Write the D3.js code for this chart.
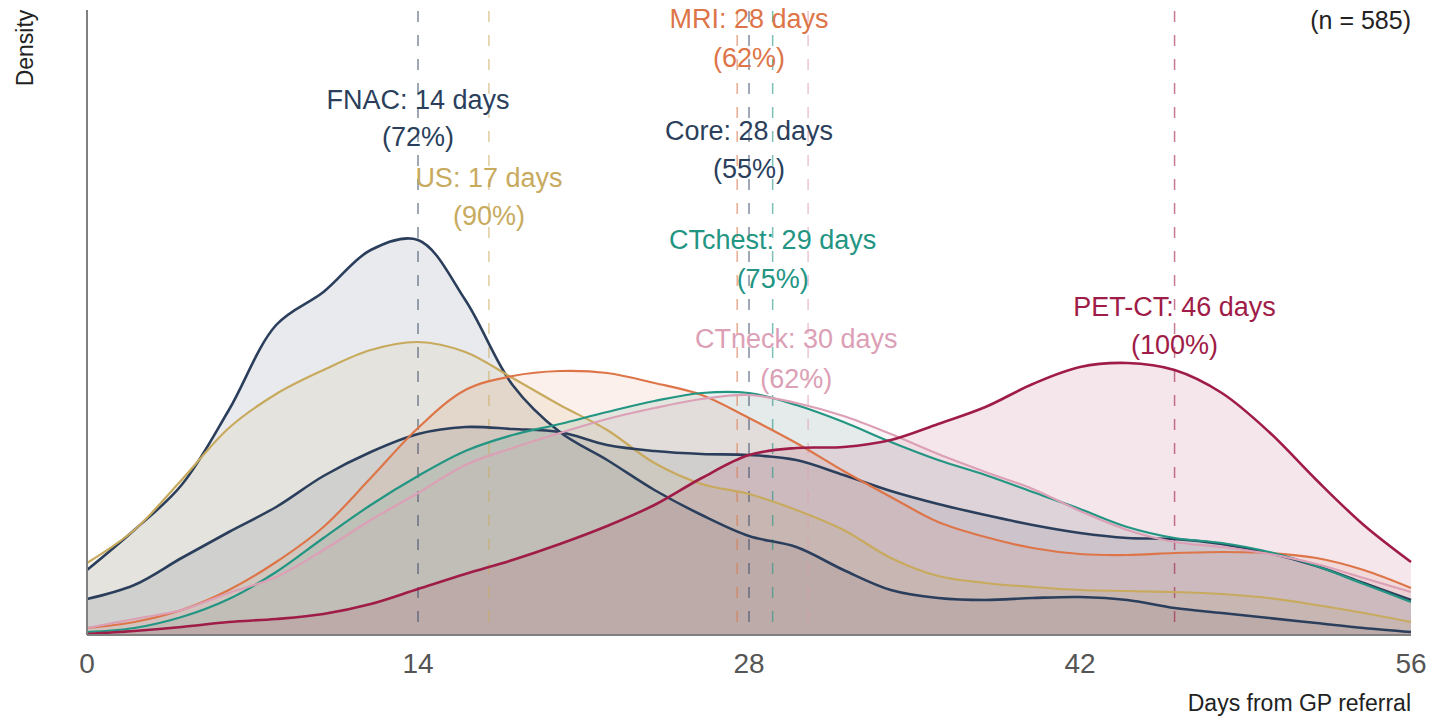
<!DOCTYPE html>
<html lang="en">
<head>
  <meta charset="UTF-8">
  <title>Days from GP referral - density</title>
  <script src="https://d3js.org/d3.v7.min.js"></script>
  <style>
    body {
      margin: 0;
      background: #fff;
      font-family: "Liberation Sans", Arial, sans-serif;
    }
    .tick-label {
      font-size: 28px;
      fill: #555;
    }
    .axis-title {
      font-size: 23px;
      fill: #222;
    }
    .ann {
      font-size: 27px;
    }
  </style>
</head>
<body>
  <svg width="1436" height="720"></svg>

  <script>
    // days sampled every 2 days, 0..56
    const days = d3.range(0, 57, 2);
    const tickDays = [0, 14, 28, 42, 56];

    const tests = ["FNAC", "US", "Core", "MRI", "CTchest", "CTneck", "PET-CT"];
    const medianDays = [14, 17, 28, 27.5, 29, 30.5, 46];
    const labelDays = [14, 17, 28, 28, 29, 30, 46];
    const pctLabels = ["72%", "90%", "55%", "62%", "75%", "62%", "100%"];
    const colors = ["#2b3f5c", "#c8aa5e", "#2b3f5c", "#dd7548", "#239583", "#dca0b6", "#a01c48"];

    const fnac = [0.0065, 0.0105, 0.0150, 0.0225, 0.0310, 0.0343, 0.0385, 0.0395, 0.0335, 0.0250, 0.0203, 0.0175, 0.0145, 0.0120, 0.0099, 0.0088, 0.0065, 0.0045, 0.0037, 0.0035, 0.0037, 0.0038, 0.0035, 0.0027, 0.0022, 0.0017, 0.0012, 0.0007, 0.0003];
    const us = [0.0072, 0.0105, 0.0155, 0.0207, 0.0241, 0.0265, 0.0285, 0.0293, 0.0283, 0.0257, 0.0230, 0.0205, 0.0172, 0.0151, 0.0141, 0.0125, 0.0105, 0.0077, 0.0059, 0.0052, 0.0048, 0.0045, 0.0044, 0.0043, 0.0041, 0.0037, 0.0030, 0.0022, 0.0013];
    const core = [0.0036, 0.0050, 0.0077, 0.0103, 0.0128, 0.0159, 0.0183, 0.0201, 0.0208, 0.0206, 0.0203, 0.0190, 0.0184, 0.0181, 0.0180, 0.0175, 0.0160, 0.0144, 0.0131, 0.0120, 0.0110, 0.0102, 0.0097, 0.0096, 0.0091, 0.0082, 0.0069, 0.0052, 0.0035];
    const mri = [0.0007, 0.0013, 0.0025, 0.0045, 0.0073, 0.0108, 0.0157, 0.0207, 0.0245, 0.0259, 0.0264, 0.0262, 0.0252, 0.0240, 0.0217, 0.0192, 0.0164, 0.0138, 0.0113, 0.0098, 0.0087, 0.0081, 0.0080, 0.0082, 0.0083, 0.0082, 0.0077, 0.0065, 0.0047];
    const ctChest = [0.0003, 0.0007, 0.0018, 0.0036, 0.0063, 0.0097, 0.0130, 0.0159, 0.0184, 0.0200, 0.0211, 0.0223, 0.0234, 0.0242, 0.0242, 0.0230, 0.0213, 0.0193, 0.0175, 0.0160, 0.0143, 0.0126, 0.0108, 0.0097, 0.0092, 0.0083, 0.0069, 0.0051, 0.0033];
    const ctNeck = [0.0007, 0.0016, 0.0025, 0.0042, 0.0058, 0.0085, 0.0115, 0.0142, 0.0170, 0.0187, 0.0202, 0.0216, 0.0227, 0.0236, 0.0240, 0.0232, 0.0219, 0.0201, 0.0181, 0.0163, 0.0146, 0.0124, 0.0105, 0.0093, 0.0088, 0.0081, 0.0071, 0.0057, 0.0043];
    const petCt = [0.0001, 0.0004, 0.0008, 0.0013, 0.0016, 0.0021, 0.0031, 0.0046, 0.0061, 0.0075, 0.0091, 0.0109, 0.0130, 0.0157, 0.0180, 0.0187, 0.0188, 0.0195, 0.0211, 0.0228, 0.0251, 0.0268, 0.0272, 0.0265, 0.0242, 0.0203, 0.0155, 0.0110, 0.0073];

    const densities = [fnac, us, core, mri, ctChest, ctNeck, petCt];

    // label placement (pixel rows for the two text lines)
    const labelRows = [[100, 137], [178, 216], [131, 169], [19, 58], [240, 279], [339, 379], [307, 345]];

    const svg = d3.select("svg");
    const margin = {top: 8, right: 25, bottom: 85, left: 87},
          width = +svg.attr("width") - margin.left - margin.right,
          height = +svg.attr("height") - margin.top - margin.bottom;

    const x = d3.scaleLinear().domain([0, 56]).range([margin.left, margin.left + width]);
    const y = d3.scaleLinear().domain([0, 0.0627]).range([margin.top + height, margin.top]);

    const series = tests.map((t, i) => ({
      name: t,
      color: colors[i],
      median: medianDays[i],
      labelDay: labelDays[i],
      pct: pctLabels[i],
      rows: labelRows[i],
      values: days.map((d, j) => ({day: d, v: densities[i][j]}))
    }));

    const smooth = d3.curveCatmullRom.alpha(0.5);
    const area = d3.area()
      .x(d => x(d.day))
      .y0(y(0))
      .y1(d => y(d.v))
      .curve(smooth);
    const line = d3.line()
      .x(d => x(d.day))
      .y(d => y(d.v))
      .curve(smooth);

    // fills
    svg.append("g").selectAll("path")
      .data(series)
      .enter()
      .append("path")
      .attr("d", d => area(d.values))
      .attr("fill", d => d.color)
      .attr("fill-opacity", 0.11);

    // median dashed lines
    svg.append("g").selectAll("line")
      .data(series)
      .enter()
      .append("line")
      .attr("x1", d => x(d.median))
      .attr("x2", d => x(d.median))
      .attr("y1", y(0.0624))
      .attr("y2", y(0))
      .attr("stroke", d => d.color)
      .attr("stroke-opacity", 0.6)
      .attr("stroke-width", 1.5)
      .attr("stroke-dasharray", "11,13");

    // outlines
    svg.append("g").selectAll("path")
      .data(series)
      .enter()
      .append("path")
      .attr("d", d => line(d.values))
      .attr("fill", "none")
      .attr("stroke", d => d.color)
      .attr("stroke-width", (d, i) => (i === 0 || i === 2 || i === 6) ? 2.6 : 2.2);

    // axes
    svg.append("line")
      .attr("x1", x(0)).attr("x2", x(0))
      .attr("y1", margin.top + 2).attr("y2", y(0))
      .attr("stroke", "#808080").attr("stroke-width", 2);
    svg.append("line")
      .attr("x1", x(0)).attr("x2", x(56))
      .attr("y1", y(0)).attr("y2", y(0))
      .attr("stroke", "#808080").attr("stroke-width", 2);

    svg.append("g").selectAll("text")
      .data(tickDays)
      .enter()
      .append("text")
      .attr("class", "tick-label")
      .attr("x", d => x(d))
      .attr("y", y(0) + 38)
      .attr("text-anchor", "middle")
      .text(d => d);

    svg.append("text")
      .attr("class", "axis-title")
      .attr("transform", "translate(33,48) rotate(-90)")
      .attr("text-anchor", "middle")
      .text("Density");

    svg.append("text")
      .attr("class", "axis-title")
      .attr("x", x(56))
      .attr("y", 711)
      .attr("text-anchor", "end")
      .text("Days from GP referral");

    svg.append("text")
      .attr("class", "axis-title")
      .style("font-size", "25px")
      .attr("x", x(56))
      .attr("y", 29)
      .attr("text-anchor", "end")
      .text("(n = 585)");

    // annotations
    const ann = svg.append("g").selectAll("g")
      .data(series)
      .enter()
      .append("g");
    ann.append("text")
      .attr("class", "ann")
      .attr("x", d => x(d.labelDay))
      .attr("y", d => d.rows[0])
      .attr("dy", "0.35em")
      .attr("text-anchor", "middle")
      .attr("fill", d => d.color)
      .text(d => `${d.name}: ${d.labelDay} days`);
    ann.append("text")
      .attr("class", "ann")
      .attr("x", d => x(d.labelDay))
      .attr("y", d => d.rows[1])
      .attr("dy", "0.35em")
      .attr("text-anchor", "middle")
      .attr("fill", d => d.color)
      .text(d => `(${d.pct})`);
  </script>
</body>
</html>
